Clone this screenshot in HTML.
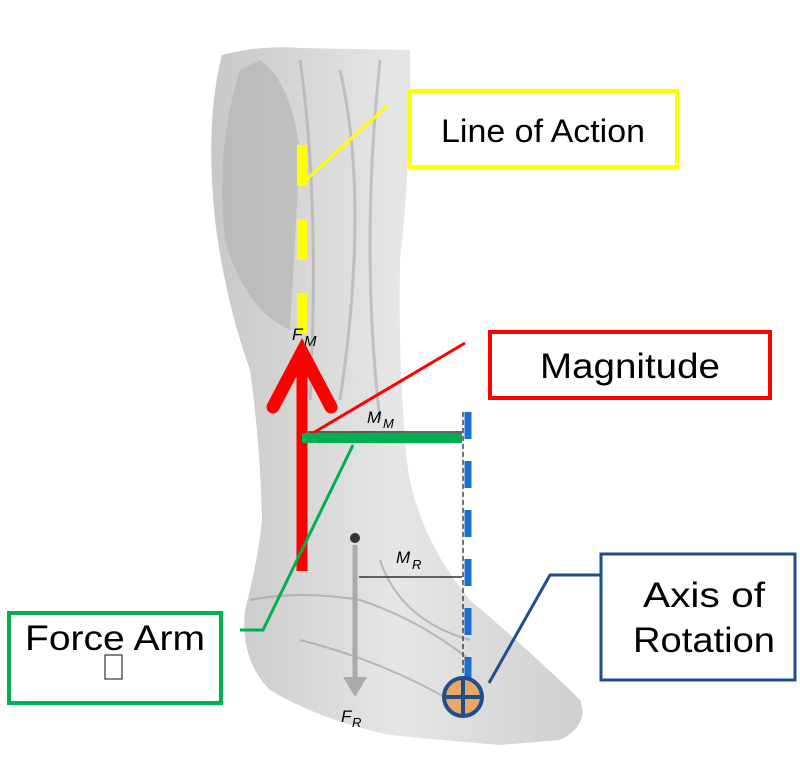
<!DOCTYPE html>
<html><head><style>body{margin:0;background:#fff}svg{display:block}</style></head><body>
<svg width="800" height="769" viewBox="0 0 800 769" xmlns="http://www.w3.org/2000/svg" font-family="Liberation Sans, sans-serif">
<defs>
<linearGradient id="lg" x1="0" x2="1"><stop offset="0" stop-color="#c8c8c8"/><stop offset="0.5" stop-color="#e6e6e6"/><stop offset="1" stop-color="#cfcfcf"/></linearGradient>
</defs>
<path d="M222,55 Q260,45 300,48 L410,50 Q412,150 400,260 Q398,380 408,470 Q420,540 470,600 Q540,660 580,700 Q590,725 560,740 L500,745 Q440,740 390,735 Q320,720 270,690 Q240,660 245,610 Q258,560 262,520 Q260,440 250,370 Q225,300 215,220 Q205,120 222,55 Z" fill="url(#lg)"/>
<path d="M240,70 Q215,150 225,240 Q245,310 290,330 L300,150 Q290,80 260,60 Z" fill="#b0b0b0" opacity="0.6"/>
<path d="M300,60 Q320,200 310,400 M340,70 Q370,200 340,400 M380,60 Q360,250 380,420" stroke="#aaa" stroke-width="3" fill="none" opacity="0.6"/>
<path d="M250,600 Q300,590 360,600 Q420,620 470,660 M300,640 Q380,660 450,700 M380,560 Q400,620 470,640" stroke="#999" stroke-width="2" fill="none" opacity="0.6"/>
<line x1="302" y1="145" x2="302" y2="335" stroke="#ffff00" stroke-width="10" stroke-dasharray="41,33"/>
<line x1="306" y1="180" x2="387" y2="106" stroke="#ffff00" stroke-width="3"/>
<rect x="410" y="91" width="267" height="76" fill="#fff" stroke="#ffff00" stroke-width="4"/>
<text x="543" y="142" font-size="32" text-anchor="middle" textLength="204" lengthAdjust="spacingAndGlyphs">Line of Action</text>
<text x="292" y="340" font-size="17" font-style="italic">F</text>
<text x="304" y="346" font-size="15" font-style="italic">M</text>
<line x1="308" y1="432" x2="463" y2="432" stroke="#333" stroke-width="1.5"/>
<line x1="463" y1="412" x2="463" y2="700" stroke="#444" stroke-width="1.5" stroke-dasharray="5,3"/>
<text x="367" y="423" font-size="17" font-style="italic">M</text>
<text x="383" y="428" font-size="13" font-style="italic">M</text>
<line x1="468" y1="412" x2="468" y2="690" stroke="#1a6fd0" stroke-width="7" stroke-dasharray="27,22"/>
<line x1="302" y1="360" x2="302" y2="571" stroke="#ff0000" stroke-width="11"/>
<polyline points="273,407 302,352 331,407" fill="none" stroke="#ff0000" stroke-width="13" stroke-linecap="round" stroke-linejoin="miter"/>
<line x1="308" y1="436" x2="465" y2="343" stroke="#ff0000" stroke-width="3"/>
<line x1="302" y1="438" x2="462" y2="438" stroke="#00b050" stroke-width="10"/>
<polyline points="353,445 263,630 240,630" fill="none" stroke="#00b050" stroke-width="3"/>
<circle cx="355" cy="538" r="5" fill="#333"/>
<line x1="355" y1="545" x2="355" y2="680" stroke="#aaa" stroke-width="5"/>
<polygon points="343,677 367,677 355,697" fill="#aaa"/>
<line x1="359" y1="577" x2="462" y2="577" stroke="#333" stroke-width="1.5"/>
<text x="396" y="563" font-size="17" font-style="italic">M</text>
<text x="412" y="569" font-size="13" font-style="italic">R</text>
<text x="341" y="722" font-size="17" font-style="italic">F</text>
<text x="352" y="727" font-size="13" font-style="italic">R</text>
<circle cx="463" cy="697" r="19" fill="#e8a868" stroke="#1f4e8c" stroke-width="4"/>
<line x1="444" y1="697" x2="482" y2="697" stroke="#1f4e8c" stroke-width="4"/>
<line x1="463" y1="678" x2="463" y2="716" stroke="#1f4e8c" stroke-width="4"/>
<polyline points="489,683 550,575 600,575" fill="none" stroke="#1f4e8c" stroke-width="3"/>
<rect x="601" y="554" width="194" height="126" fill="#fff" stroke="#1f4e8c" stroke-width="3"/>
<text x="704" y="607" font-size="35" text-anchor="middle" textLength="122" lengthAdjust="spacingAndGlyphs">Axis of</text>
<text x="704" y="652" font-size="35" text-anchor="middle" textLength="142" lengthAdjust="spacingAndGlyphs">Rotation</text>
<rect x="490" y="332" width="280" height="66" fill="#fff" stroke="#ff0000" stroke-width="4"/>
<text x="630" y="378" font-size="35" text-anchor="middle" textLength="180" lengthAdjust="spacingAndGlyphs">Magnitude</text>
<rect x="9" y="613" width="212" height="90" fill="#fff" stroke="#00b050" stroke-width="4"/>
<text x="115" y="650" font-size="35" text-anchor="middle" textLength="180" lengthAdjust="spacingAndGlyphs">Force Arm</text>
<rect x="105" y="655" width="17" height="24" fill="none" stroke="#333" stroke-width="1.2"/>
</svg>
</body></html>
